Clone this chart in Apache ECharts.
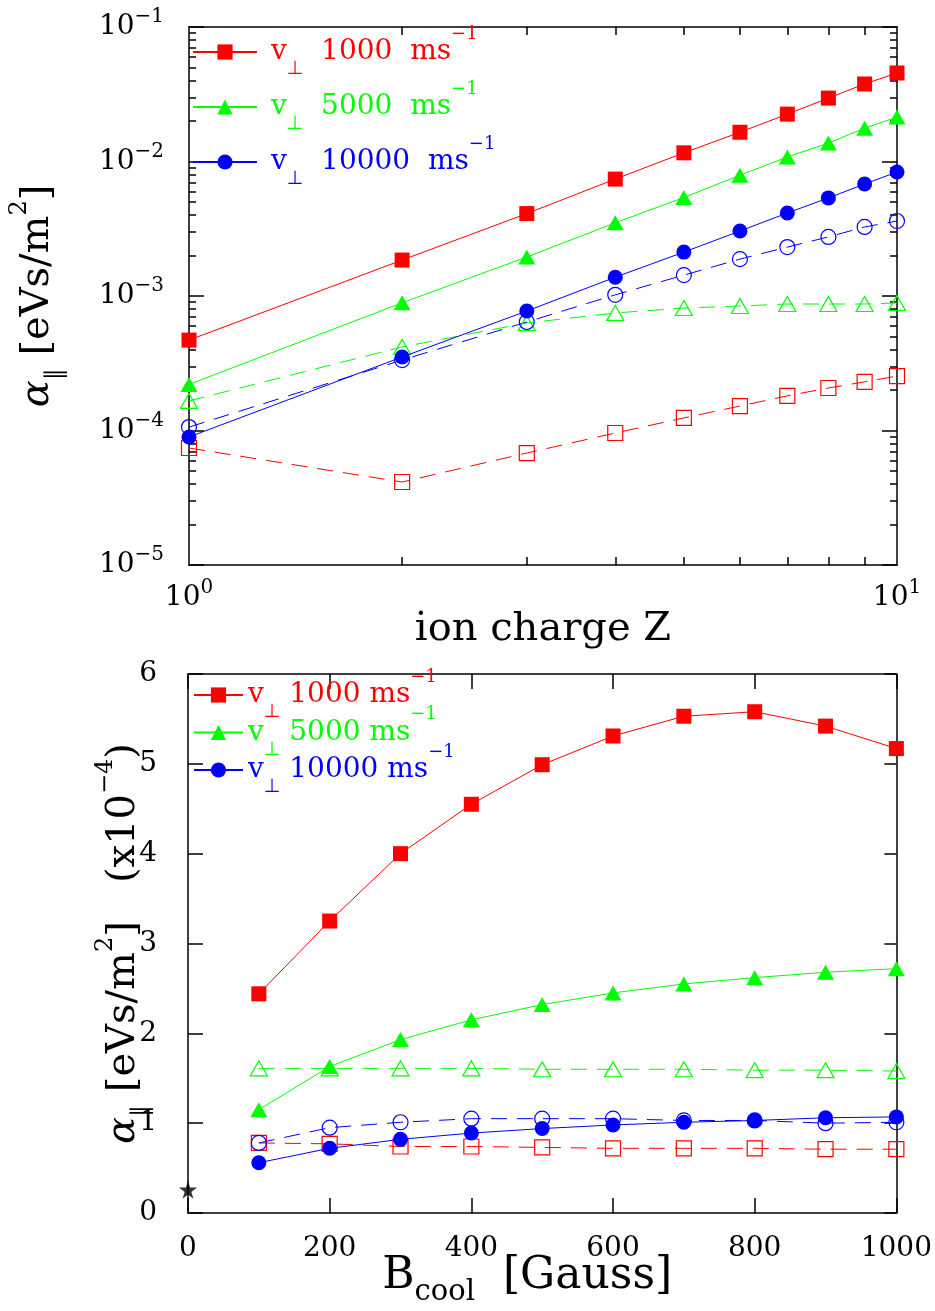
<!DOCTYPE html>
<html><head><meta charset="utf-8">
<script src="https://cdn.jsdelivr.net/npm/echarts@6/dist/echarts.min.js"></script>
<style>html,body{margin:0;padding:0;background:#fff}#c{width:935px;height:1311px}</style>
</head><body><div id="c"></div>
<script>
// ---------- data: top panel (ion charge Z) ----------
const Z = [1, 2, 3, 4, 5, 6, 7, 8, 9, 10];
const topRedFilled   = [4.7e-4, 1.85e-3, 4.1e-3, 7.4e-3, 1.16e-2, 1.65e-2, 2.25e-2, 2.96e-2, 3.77e-2, 4.55e-2];
const topGreenFilled = [2.2e-4, 8.9e-4, 1.95e-3, 3.5e-3, 5.4e-3, 7.9e-3, 1.08e-2, 1.37e-2, 1.77e-2, 2.14e-2];
const topBlueFilled  = [8.95e-5, 3.52e-4, 7.73e-4, 1.38e-3, 2.12e-3, 3.04e-3, 4.14e-3, 5.36e-3, 6.8e-3, 8.35e-3];
const topRedOpen     = [7.41e-5, 4.14e-5, 6.8e-5, 9.58e-5, 1.24e-4, 1.52e-4, 1.81e-4, 2.07e-4, 2.3e-4, 2.54e-4];
const topGreenOpen   = [1.66e-4, 4.18e-4, 6.3e-4, 7.48e-4, 8.14e-4, 8.43e-4, 8.72e-4, 8.72e-4, 8.72e-4, 8.87e-4];
const topBlueOpen    = [1.06e-4, 3.34e-4, 6.41e-4, 1.02e-3, 1.43e-3, 1.88e-3, 2.31e-3, 2.75e-3, 3.26e-3, 3.61e-3];
// ---------- data: bottom panel (B_cool) ----------
const Bcool = [100, 200, 300, 400, 500, 600, 700, 800, 900, 1000];
const botRedFilled   = [2.44, 3.25, 4.00, 4.55, 4.99, 5.31, 5.53, 5.58, 5.42, 5.17];
const botGreenFilled = [1.15, 1.63, 1.93, 2.15, 2.32, 2.45, 2.55, 2.62, 2.68, 2.72];
const botBlueFilled  = [0.56, 0.72, 0.82, 0.89, 0.94, 0.98, 1.01, 1.03, 1.06, 1.07];
const botRedOpen     = [0.78, 0.77, 0.74, 0.74, 0.73, 0.72, 0.72, 0.72, 0.71, 0.71];
const botGreenOpen   = [1.61, 1.61, 1.61, 1.61, 1.60, 1.60, 1.60, 1.59, 1.59, 1.58];
const botBlueOpen    = [0.78, 0.95, 1.01, 1.05, 1.05, 1.05, 1.03, 1.03, 1.00, 1.01];
const starPoint = [0, 0.26];
// ---------- ticks / labels ----------
const topXLabelValues = [1, 10];
const topYLabelValues = [1e-5, 1e-4, 1e-3, 1e-2, 1e-1];
const topXMinor = [2, 3, 4, 5, 6, 7, 8, 9];
const topYMinor = [2e-5,3e-5,4e-5,5e-5,6e-5,7e-5,8e-5,9e-5,
                   2e-4,3e-4,4e-4,5e-4,6e-4,7e-4,8e-4,9e-4,
                   2e-3,3e-3,4e-3,5e-3,6e-3,7e-3,8e-3,9e-3,
                   2e-2,3e-2,4e-2,5e-2,6e-2,7e-2,8e-2,9e-2];
const legendNames  = ['v1000', 'v5000', 'v10000'];
const legendSpeeds = ['1000', '5000', '10000'];

const FONT = 'DejaVu Serif';
const RED = '#ff0000', GREEN = '#00ff00', BLUE = '#0000ff';
const colorKey = {v1000: 'r', v5000: 'g', v10000: 'b'};
const colorOf = {r: RED, g: GREEN, b: BLUE};

function zip(xs, ys) { return xs.map((x, i) => [x, ys[i]]); }

function filled(name, xi, yi, xs, ys, symbol, size, color) {
  return {
    type: 'line', name: name, xAxisIndex: xi, yAxisIndex: yi,
    data: zip(xs, ys), symbol: symbol, symbolSize: size, clip: false,
    itemStyle: {color: color},
    lineStyle: {color: color, width: 1},
    emphasis: {disabled: true}, z: 3
  };
}
function open(name, xi, yi, xs, ys, symbol, size, color) {
  return {
    type: 'line', name: name, xAxisIndex: xi, yAxisIndex: yi,
    data: zip(xs, ys), symbol: symbol, symbolSize: size, clip: false,
    itemStyle: {color: 'rgba(0,0,0,0)', borderColor: color, borderWidth: 1.2},
    lineStyle: {color: color, width: 1, type: [16, 10]},
    emphasis: {disabled: true}, z: 2
  };
}

const legendRich = {};
Object.keys(colorOf).forEach(k => {
  const c = colorOf[k];
  legendRich[k + 'v']   = {fontFamily: FONT, fontSize: 28, lineHeight: 54, verticalAlign: 'middle', color: c};
  legendRich[k + 'sub'] = {fontFamily: 'DejaVu Sans', fontSize: 19, lineHeight: 18, verticalAlign: 'bottom', color: c};
  legendRich[k + 'sup'] = {fontFamily: FONT, fontSize: 18, lineHeight: 40, verticalAlign: 'top', color: c};
});
function legendFmt(lead, gap) {
  return function (name) {
    const k = colorKey[name];
    const sp = legendSpeeds[legendNames.indexOf(name)];
    return '{' + k + 'v|' + lead + 'v}{' + k + 'sub|⊥}{' + k + 'v|' + gap + sp + gap + 'ms}{' + k + 'sup|−1}';
  };
}
const tickRich = {
  a: {fontFamily: FONT, fontSize: 28, lineHeight: 40, verticalAlign: 'middle', color: '#000'},
  s: {fontFamily: FONT, fontSize: 20, lineHeight: 15, verticalAlign: 'top', color: '#000'}
};
function powLabel(v) {
  const e = Math.round(Math.log10(v));
  return '{a|10}{s|' + String(e).replace('-', '−') + '}';
}
const titleRich = {
  a:   {fontFamily: FONT, fontSize: 40, fontStyle: 'italic', lineHeight: 60, verticalAlign: 'middle', color: '#000'},
  t:   {fontFamily: FONT, fontSize: 40, lineHeight: 60, verticalAlign: 'middle', color: '#000'},
  b:   {fontFamily: FONT, fontSize: 44, lineHeight: 60, verticalAlign: 'middle', color: '#000'},
  sub: {fontFamily: 'DejaVu Sans', fontSize: 24, lineHeight: 16, verticalAlign: 'bottom', color: '#000'},
  sup: {fontFamily: FONT, fontSize: 24, lineHeight: 30, verticalAlign: 'top', color: '#000'},
  cs:  {fontFamily: FONT, fontSize: 29, lineHeight: 18, verticalAlign: 'bottom', color: '#000'}
};

const AX = {color: '#000', width: 1.5};
function logX(pos, showLabel) {
  return {
    type: 'log', logBase: 10, gridIndex: 0, position: pos, min: 1, max: 10,
    axisLine: {show: true, lineStyle: AX},
    axisTick: {show: true, inside: true, length: 8, customValues: topXMinor, lineStyle: AX},
    axisLabel: showLabel ? {show: true, customValues: topXLabelValues, formatter: powLabel, margin: 13, rich: tickRich} : {show: false},
    splitLine: {show: false}, minorTick: {show: false}
  };
}
function logY(pos, major, showLine, showLabel) {
  return {
    type: 'log', logBase: 10, gridIndex: 0, position: pos, min: 1e-5, max: 1e-1,
    axisLine: {show: showLine, lineStyle: AX},
    axisTick: {show: true, inside: true, length: major ? 15 : 7, customValues: major ? topYLabelValues : topYMinor, lineStyle: AX},
    axisLabel: showLabel ? {show: true, customValues: topYLabelValues, formatter: powLabel, margin: 25, rich: tickRich} : {show: false},
    splitLine: {show: false}, minorTick: {show: false}
  };
}

const xTop0 = logX('bottom', true);
xTop0.name = 'ion charge Z';
xTop0.nameLocation = 'middle';
xTop0.nameGap = 45;
xTop0.nameMoveOverlap = false;
xTop0.nameTextStyle = {fontFamily: FONT, fontSize: 40, color: '#000'};

const yTop0 = logY('left', true, true, true);
yTop0.name = '{a|α}{sub|∥}{t| [eVs/m}{sup|2}{t|]}';
yTop0.nameLocation = 'middle';
yTop0.nameRotate = 90;
yTop0.nameGap = 121;
yTop0.nameMoveOverlap = false;
yTop0.nameTextStyle = {fontFamily: FONT, fontSize: 40, color: '#000', rich: titleRich};

const option = {
  animation: false,
  backgroundColor: '#fff',
  textStyle: {fontFamily: FONT},
  grid: [
    {left: 188, top: 27, width: 709, height: 538},
    {left: 188, top: 674, width: 709, height: 539}
  ],
  legend: [
    {left: 192, top: 25, orient: 'vertical', itemWidth: 64, itemHeight: 19, itemGap: 1, padding: 0,
     selectedMode: false, data: legendNames, formatter: legendFmt(' ', '  '),
     textStyle: {fontFamily: FONT, fontSize: 28, rich: legendRich}},
    {left: 193, top: 668, orient: 'vertical', itemWidth: 49, itemHeight: 19, itemGap: -16.5, padding: 0,
     selectedMode: false, data: legendNames, formatter: legendFmt('', ' '),
     textStyle: {fontFamily: FONT, fontSize: 28, rich: legendRich}}
  ],
  xAxis: [
    xTop0,
    logX('top', false),
    {
      type: 'value', gridIndex: 1, position: 'bottom', min: 0, max: 1000, interval: 200,
      axisLine: {show: true, onZero: false, lineStyle: AX},
      axisTick: {show: true, inside: true, length: 15, lineStyle: AX},
      axisLabel: {show: true, fontFamily: FONT, fontSize: 28, color: '#000', margin: 22, formatter: v => String(v)},
      splitLine: {show: false},
      name: '{b|B}{cs|cool}{b|  [Gauss]}', nameLocation: 'middle', nameGap: 34, nameMoveOverlap: false,
      nameTextStyle: {fontFamily: FONT, fontSize: 44, color: '#000', rich: titleRich, padding: [0, 30, 0, 0]}
    },
    {
      type: 'value', gridIndex: 1, position: 'top', min: 0, max: 1000, interval: 200,
      axisLine: {show: true, onZero: false, lineStyle: AX},
      axisTick: {show: true, inside: true, length: 15, lineStyle: AX},
      axisLabel: {show: false}, splitLine: {show: false}
    }
  ],
  yAxis: [
    yTop0,
    logY('left', false, false, false),
    logY('right', true, true, false),
    logY('right', false, false, false),
    {
      type: 'value', gridIndex: 1, position: 'left', min: 0, max: 6, interval: 1,
      axisLine: {show: true, onZero: false, lineStyle: AX},
      axisTick: {show: true, inside: true, length: 15, lineStyle: AX},
      axisLabel: {show: true, fontFamily: FONT, fontSize: 28, color: '#000', margin: 31},
      splitLine: {show: false},
      name: '{a|α}{sub|∥}{t| [eVs/m}{sup|2}{t|]   (x10}{sup|−4}{t|)}', nameLocation: 'middle', nameRotate: 90,
      nameGap: 34, nameMoveOverlap: false,
      nameTextStyle: {fontFamily: FONT, fontSize: 40, color: '#000', rich: titleRich}
    },
    {
      type: 'value', gridIndex: 1, position: 'right', min: 0, max: 6, interval: 1,
      axisLine: {show: true, onZero: false, lineStyle: AX},
      axisTick: {show: true, inside: true, length: 12, lineStyle: AX},
      axisLabel: {show: false}, splitLine: {show: false}
    }
  ],
  series: [
    open('topRedOpen', 0, 0, Z, topRedOpen, 'rect', 15, RED),
    open('topGreenOpen', 0, 0, Z, topGreenOpen, 'triangle', [17, 15], GREEN),
    open('topBlueOpen', 0, 0, Z, topBlueOpen, 'circle', 15, BLUE),
    filled('v1000', 0, 0, Z, topRedFilled, 'rect', 15, RED),
    filled('v5000', 0, 0, Z, topGreenFilled, 'triangle', [17, 15], GREEN),
    filled('v10000', 0, 0, Z, topBlueFilled, 'circle', 15, BLUE),

    open('botRedOpen', 2, 4, Bcool, botRedOpen, 'rect', 15, RED),
    open('botGreenOpen', 2, 4, Bcool, botGreenOpen, 'triangle', [17, 15], GREEN),
    open('botBlueOpen', 2, 4, Bcool, botBlueOpen, 'circle', 15, BLUE),
    filled('v1000', 2, 4, Bcool, botRedFilled, 'rect', 15, RED),
    filled('v5000', 2, 4, Bcool, botGreenFilled, 'triangle', [17, 15], GREEN),
    filled('v10000', 2, 4, Bcool, botBlueFilled, 'circle', 15, BLUE),
    {
      type: 'scatter', name: 'star', xAxisIndex: 2, yAxisIndex: 4, clip: false,
      data: [starPoint], symbolSize: 18,
      symbol: 'path://M50,0 L61,35 L98,35 L68,57 L79,91 L50,70 L21,91 L32,57 L2,35 L39,35 Z',
      itemStyle: {color: '#000'}, emphasis: {disabled: true}, z: 4
    }
  ]
};
const chart = echarts.init(document.getElementById('c'));
chart.setOption(option);
</script></body></html>
